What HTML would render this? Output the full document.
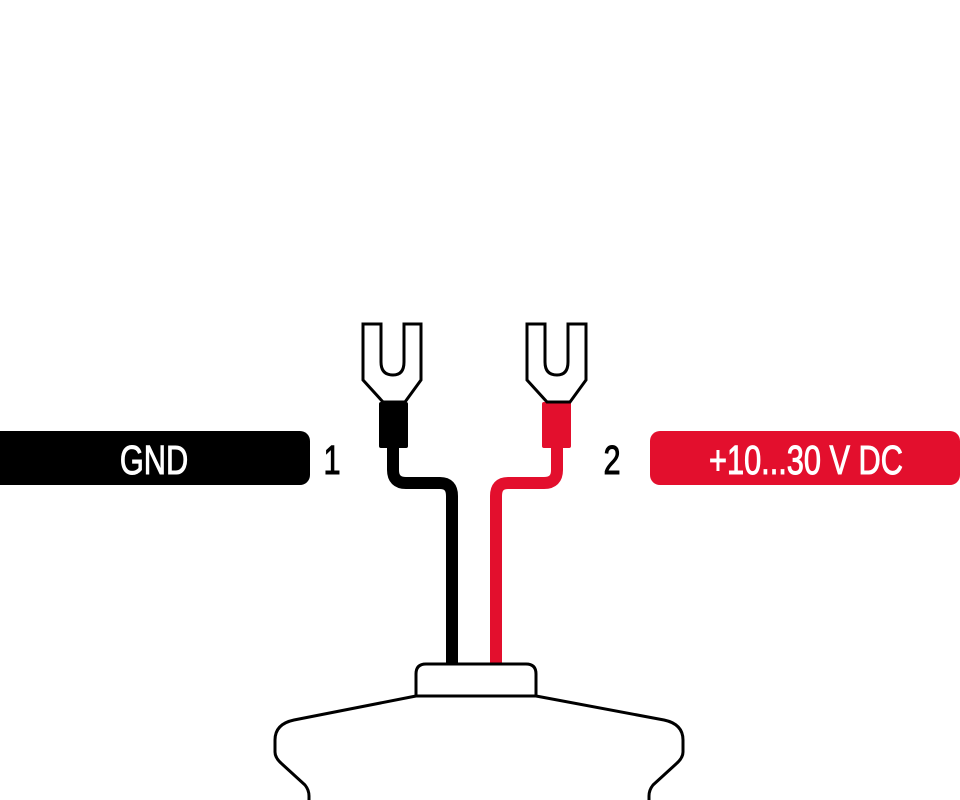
<!DOCTYPE html>
<html><head><meta charset="utf-8"><style>
html,body{margin:0;padding:0;background:#fff;}
svg{display:block}
text{font-family:"Liberation Sans",sans-serif;}
</style></head><body>
<svg width="960" height="800" viewBox="0 0 960 800" xmlns="http://www.w3.org/2000/svg">
<rect x="-10" y="431" width="320" height="54" rx="10" fill="#000"/>
<rect x="650" y="431" width="310" height="54" rx="10" fill="#e30f2d"/>
<g transform="translate(154,474) scale(0.75,1)"><text x="0" y="0" font-size="41" fill="#fff" stroke="#fff" stroke-width="1" text-anchor="middle">GND</text></g>
<g transform="translate(806,474) scale(0.75,1)"><text x="0" y="0" font-size="41" fill="#fff" stroke="#fff" stroke-width="1" text-anchor="middle">+10...30 V DC</text></g>
<g transform="translate(332,474) scale(0.75,1)"><text x="0" y="0" font-size="41" fill="#000" stroke="#000" stroke-width="1" text-anchor="middle">1</text></g>
<g transform="translate(612,474) scale(0.75,1)"><text x="0" y="0" font-size="41" fill="#000" stroke="#000" stroke-width="1" text-anchor="middle">2</text></g>
<path d="M393,440 V470 Q393,483 406,483 H440 Q452,483 452,496 V666" fill="none" stroke="#000" stroke-width="12"/>
<path d="M557,440 V470 Q557,483 544,483 H508 Q496,483 496,496 V666" fill="none" stroke="#e30f2d" stroke-width="12"/>
<rect x="379" y="402" width="29" height="46" rx="2" fill="#000"/>
<rect x="542" y="402" width="29" height="46" rx="2" fill="#e30f2d"/>
<g fill="#fff" stroke="#000" stroke-width="3" stroke-linejoin="miter">
<path d="M363,324 H381 V362 Q381,375 393,375 Q404,375 404,362 V324 H421 V380 L405,402 H383 L363,380 Z"/>
<path d="M527,324 H545 V362 Q545,375 557,375 Q568,375 568,362 V324 H586 V380 L570,402 H547 L527,380 Z"/>
</g>
<g fill="#fff" stroke="#000" stroke-width="3" stroke-linejoin="round">
<path d="M416,696 L294,720 Q275,724 275,740 V752 Q275,758 282,764 L305,785 Q309,790 309,796 V805 H649 V796 Q649,790 653,785 L676,764 Q683,758 683,752 V740 Q683,724 664,720 L536,696 Z"/>
<path d="M416,696 V674 Q416,664 426,664 H526 Q536,664 536,674 V696 Z"/>
</g>
</svg>
</body></html>
